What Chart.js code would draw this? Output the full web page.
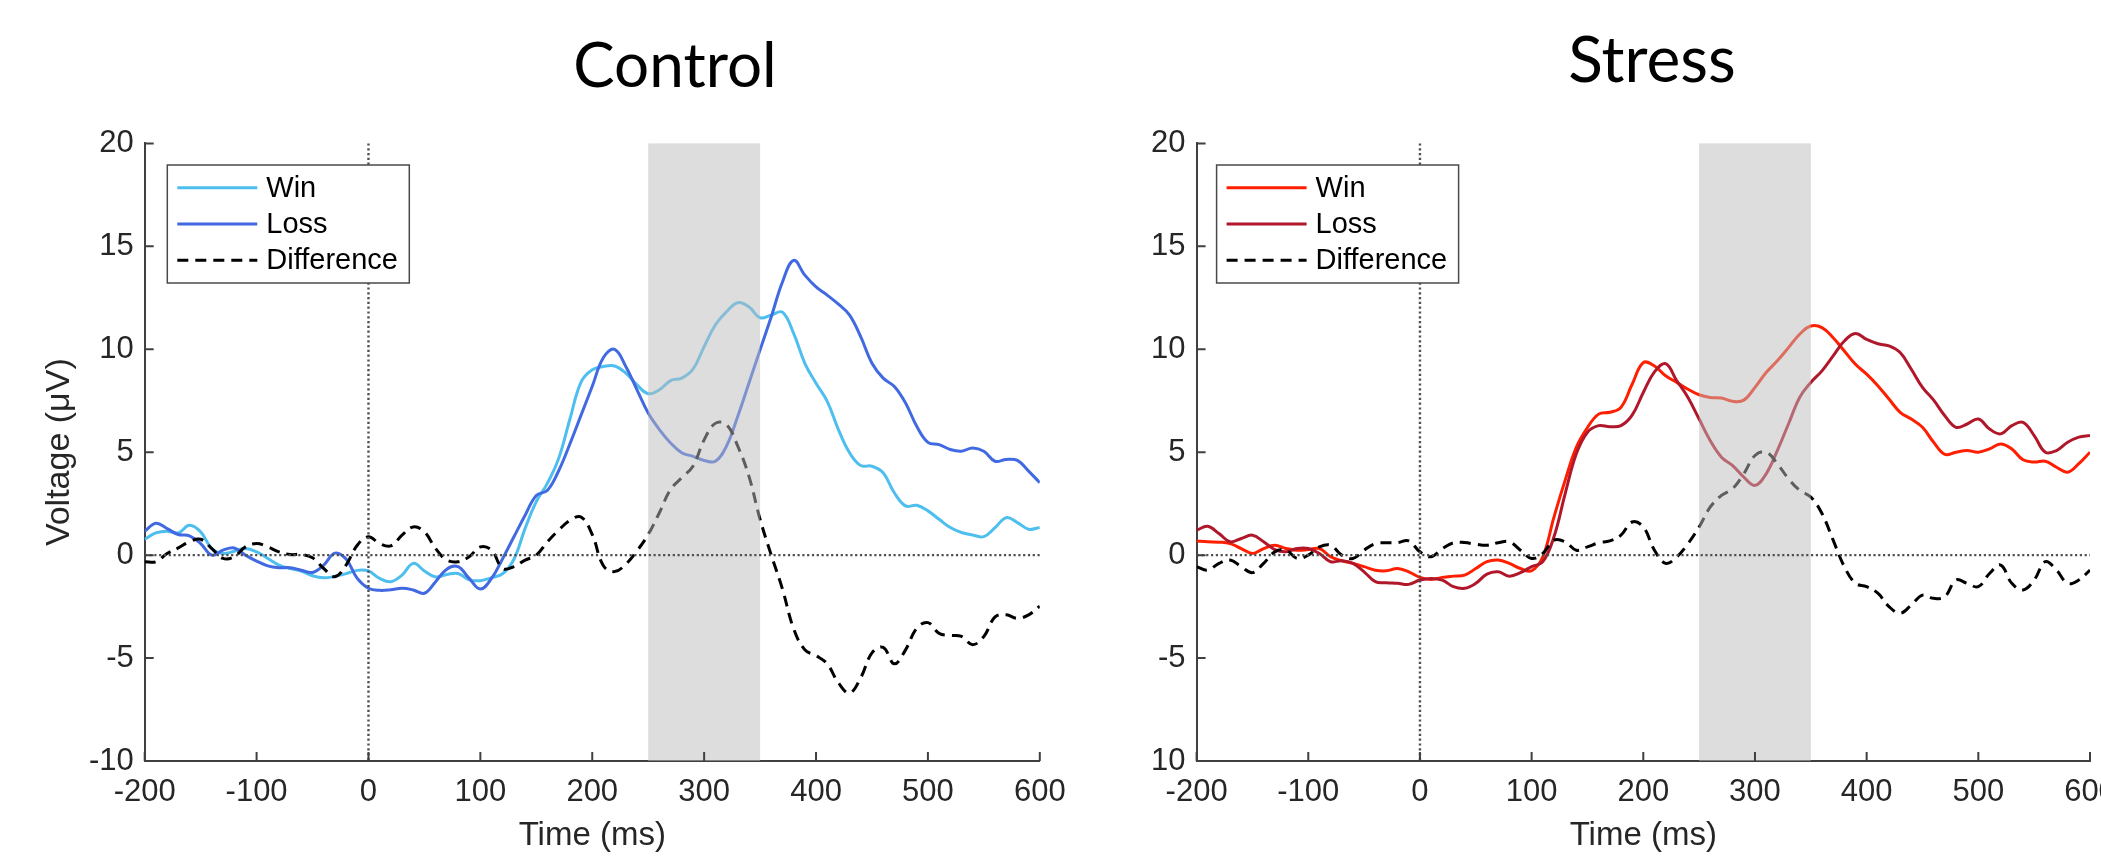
<!DOCTYPE html>
<html>
<head>
<meta charset="utf-8">
<title>ERP waveforms: Control vs Stress</title>
<script src="https://cdn.jsdelivr.net/npm/chart.js@4.4.1/dist/chart.umd.min.js"></script>
<style>
  html, body { margin: 0; padding: 0; background: #fff; overflow: hidden; }
  #wrap { position: relative; width: 2101px; height: 857px; }
  canvas { position: absolute; top: 0; }
  #control { left: 0; }
  #stress { left: 1152px; }
</style>
</head>
<body>
<div id="wrap">
  <canvas id="control" width="1100" height="857"></canvas>
  <canvas id="stress" width="949" height="857"></canvas>
</div>
<script>
// sample times (ms), 10 ms steps
const times = [
  -200, -190, -180, -170, -160, -150, -140, -130, -120, -110,
  -100, -90, -80, -70, -60, -50, -40, -30, -20, -10,
  0, 10, 20, 30, 40, 50, 60, 70, 80, 90,
  100, 110, 120, 130, 140, 150, 160, 170, 180, 190,
  200, 210, 220, 230, 240, 250, 260, 270, 280, 290,
  300, 310, 320, 330, 340, 350, 360, 370, 380, 390,
  400, 410, 420, 430, 440, 450, 460, 470, 480, 490,
  500, 510, 520, 530, 540, 550, 560, 570, 580, 590,
  600
];

const xTicks = [-200, -100, 0, 100, 200, 300, 400, 500, 600];
const yTicks = [-10, -5, 0, 5, 10, 15, 20];
const windowMs = [250, 350];

// Control group (µV)
const ctrlWin = [
  0.77, 1.08, 1.16, 1.08, 1.45, 1.13, 0.32, 0.08, 0.19, 0.32,
  0.16, -0.16, -0.48, -0.65, -0.77, -1.0, -1.1, -1.03, -0.9, -0.74,
  -0.77, -1.13, -1.29, -0.97, -0.4, -0.77, -1.06, -0.94, -0.89, -1.2,
  -1.24, -1.1, -0.9, -0.2, 1.3, 2.6, 3.5, 4.7, 6.6, 8.4,
  9.0, 9.16, 9.19, 8.84, 8.27, 7.84, 8.03, 8.48, 8.6, 9.03,
  10.13, 11.18, 11.82, 12.26, 12.06, 11.53, 11.66, 11.8, 10.77, 9.32,
  8.35, 7.47, 6.1, 4.97, 4.35, 4.32, 4.0, 3.03, 2.39, 2.42,
  2.15, 1.74, 1.34, 1.1, 0.98, 0.9, 1.34, 1.82, 1.58, 1.26,
  1.34
];
const ctrlLoss = [
  1.16, 1.55, 1.29, 1.0, 0.94, 0.56, 0.0, 0.24, 0.35, 0.0,
  -0.29, -0.52, -0.61, -0.61, -0.73, -0.84, -0.48, 0.1, -0.19, -1.13,
  -1.61, -1.71, -1.68, -1.61, -1.69, -1.85, -1.29, -0.68, -0.56, -1.13,
  -1.65, -1.13, -0.16, 0.89, 1.94, 2.9, 3.15, 4.1, 5.4, 6.8,
  8.2, 9.6, 10.0, 9.16, 8.03, 6.9, 6.1, 5.45, 4.97, 4.8,
  4.6, 4.56, 5.3, 6.74, 8.35, 9.97, 11.58, 13.27, 14.32, 13.6,
  13.03, 12.63, 12.19, 11.66, 10.6, 9.32, 8.6, 8.19, 7.39, 6.26,
  5.48, 5.37, 5.13, 5.05, 5.21, 5.05, 4.56, 4.65, 4.6, 4.08,
  3.52
];
const ctrlDiff = [
  -0.32, -0.32, 0.08, 0.35, 0.65, 0.77, 0.32, -0.16, -0.08, 0.4,
  0.56, 0.4, 0.16, 0.03, 0.03, -0.13, -0.65, -1.05, -0.48, 0.48,
  0.89, 0.56, 0.45, 0.97, 1.37, 1.13, 0.32, -0.24, -0.32, -0.08,
  0.4, 0.24, -0.65, -0.56, -0.24, 0.0, 0.65, 1.21, 1.69, 1.85,
  1.0, -0.52, -0.8, -0.44, 0.21, 1.0, 2.06, 3.19, 3.76, 4.32,
  5.6, 6.4, 6.34, 5.3, 3.84, 1.74, 0.0, -1.65, -3.58, -4.6,
  -4.88, -5.28, -6.2, -6.7, -5.95, -4.75, -4.48, -5.28, -4.6, -3.55,
  -3.28, -3.8, -3.9, -3.95, -4.35, -3.95, -3.0, -2.9, -3.07, -2.9,
  -2.48
];

// Stress group (µV)
const strWin = [
  0.69, 0.65, 0.63, 0.56, 0.32, 0.08, 0.32, 0.48, 0.32, 0.24,
  0.27, 0.32, -0.08, -0.27, -0.4, -0.56, -0.73, -0.76, -0.65, -0.81,
  -1.08, -1.18, -1.08, -1.02, -0.97, -0.65, -0.32, -0.24, -0.4, -0.65,
  -0.76, -0.08, 1.85, 3.63, 5.24, 6.2, 6.85, 6.94, 7.18, 8.3,
  9.35, 9.19, 8.71, 8.39, 8.06, 7.79, 7.66, 7.63, 7.47, 7.53,
  8.15, 8.87, 9.44, 10.08, 10.73, 11.13, 11.05, 10.56, 9.92, 9.27,
  8.79, 8.23, 7.58, 6.94, 6.61, 6.21, 5.48, 4.89, 5.0, 5.08,
  5.0, 5.16, 5.4, 5.16, 4.63, 4.52, 4.56, 4.27, 4.03, 4.44,
  5.0
];
const strLoss = [
  1.21, 1.4, 1.05, 0.65, 0.81, 0.97, 0.65, 0.27, 0.16, 0.32,
  0.32, 0.08, -0.32, -0.27, -0.4, -0.81, -1.29, -1.34, -1.37, -1.42,
  -1.21, -1.13, -1.21, -1.53, -1.61, -1.37, -0.92, -0.81, -1.02, -0.85,
  -0.56, -0.32, 0.89, 2.98, 4.92, 5.97, 6.29, 6.24, 6.29, 6.8,
  7.9, 8.9, 9.3, 8.47, 7.66, 6.61, 5.56, 4.76, 4.35, 3.79,
  3.39, 3.95, 5.08, 6.37, 7.66, 8.39, 8.95, 9.68, 10.4, 10.76,
  10.48, 10.27, 10.16, 9.84, 9.03, 8.15, 7.53, 6.77, 6.21, 6.37,
  6.61, 6.13, 5.89, 6.29, 6.45, 5.81, 5.0, 5.08, 5.48, 5.73,
  5.81
];
const strDiff = [
  -0.56, -0.73, -0.4, -0.24, -0.56, -0.85, -0.4, 0.16, 0.24, -0.16,
  0.0, 0.4, 0.48, 0.0, -0.16, 0.24, 0.56, 0.6, 0.61, 0.69,
  0.16, -0.08, 0.32, 0.6, 0.61, 0.53, 0.48, 0.6, 0.65, 0.24,
  -0.16, 0.08, 0.73, 0.65, 0.24, 0.4, 0.6, 0.69, 0.97, 1.61,
  1.37, 0.24, -0.4, -0.08, 0.56, 1.37, 2.34, 2.9, 3.23, 3.95,
  4.84, 5.0, 4.44, 3.71, 3.15, 2.82, 2.02, 0.73, -0.56, -1.37,
  -1.53, -1.85, -2.5, -2.82, -2.42, -1.94, -2.1, -2.02, -1.21, -1.37,
  -1.53, -0.89, -0.48, -1.37, -1.69, -1.21, -0.32, -0.73, -1.37, -1.21,
  -0.73
];

const FONT = '"Liberation Sans", Arial, Helvetica, sans-serif';
const AXIS = '#404040';
const TEXT = '#262626';

Chart.defaults.font.family = FONT;

// shaded window, zero lines, inward ticks, boxed legend and panel title
const erpDecor = {
  id: 'erpDecor',
  afterDatasetsDraw(chart, args, opts) {
    const { ctx, chartArea: a, scales: { x, y } } = chart;
    ctx.save();
    const x0 = x.getPixelForValue(windowMs[0]);
    const x1 = x.getPixelForValue(windowMs[1]);
    ctx.fillStyle = 'rgba(188,188,188,0.5)';
    ctx.fillRect(x0, a.top, x1 - x0, a.bottom - a.top);

    ctx.strokeStyle = '#505050';
    ctx.lineWidth = 2.4;
    ctx.setLineDash([2.2, 2.6]);
    const yz = y.getPixelForValue(0);
    const xz = x.getPixelForValue(0);
    ctx.beginPath();
    ctx.moveTo(a.left, yz);
    ctx.lineTo(a.right, yz);
    ctx.moveTo(xz, a.top);
    ctx.lineTo(xz, a.bottom);
    ctx.stroke();
    ctx.restore();
  },
  afterDraw(chart, args, opts) {
    const { ctx, chartArea: a, scales: { x, y } } = chart;
    ctx.save();

    // tick marks pointing into the axes
    ctx.strokeStyle = AXIS;
    ctx.lineWidth = 2;
    ctx.beginPath();
    x.ticks.forEach(t => {
      const px = x.getPixelForValue(t.value);
      ctx.moveTo(px, a.bottom);
      ctx.lineTo(px, a.bottom - 9);
    });
    y.ticks.forEach(t => {
      const py = y.getPixelForValue(t.value);
      ctx.moveTo(a.left, py);
      ctx.lineTo(a.left + 9, py);
    });
    ctx.stroke();

    // legend
    const bx = a.left + opts.legendDx;
    const by = a.top + opts.legendDy;
    const bw = 242, bh = 118;
    ctx.fillStyle = '#fff';
    ctx.fillRect(bx, by, bw, bh);
    ctx.strokeStyle = '#4a4a4a';
    ctx.lineWidth = 1.5;
    ctx.strokeRect(bx, by, bw, bh);
    ctx.font = '29px ' + FONT;
    ctx.textBaseline = 'middle';
    ctx.textAlign = 'left';
    chart.data.datasets.forEach((ds, i) => {
      const ly = by + 22.7 + i * 36.3;
      ctx.strokeStyle = ds.borderColor;
      ctx.lineWidth = ds.borderWidth;
      ctx.setLineDash(ds.borderDash || []);
      ctx.beginPath();
      ctx.moveTo(bx + 10, ly);
      ctx.lineTo(bx + 90, ly);
      ctx.stroke();
      ctx.fillStyle = '#000';
      ctx.fillText(ds.label, bx + 99, ly + 1);
    });
    ctx.setLineDash([]);

    // panel title
    ctx.font = opts.titleSize + 'px Lato, "Open Sans", sans-serif';
    ctx.textAlign = 'center';
    ctx.textBaseline = 'alphabetic';
    ctx.fillStyle = '#000';
    ctx.fillText(opts.title, opts.titleX, opts.titleY);
    ctx.restore();
  }
};

function erpChart(id, win, loss, diff, colors, panel) {
  const pts = vals => times.map((t, i) => ({ x: t, y: vals[i] }));
  return new Chart(document.getElementById(id), {
    type: 'line',
    data: {
      datasets: [
        { label: 'Win', data: pts(win), borderColor: colors[0], borderWidth: 3, order: 2 },
        { label: 'Loss', data: pts(loss), borderColor: colors[1], borderWidth: 3, order: 1 },
        { label: 'Difference', data: pts(diff), borderColor: '#000', borderWidth: 3, borderDash: [11, 7], order: 0 }
      ]
    },
    options: {
      responsive: false,
      animation: false,
      events: [],
      layout: { padding: { top: 143.4, right: panel.padRight, bottom: 0, left: 0 } },
      elements: { point: { radius: 0 }, line: { tension: 0.4, fill: false } },
      plugins: {
        legend: { display: false },
        tooltip: { enabled: false },
        erpDecor: {
          title: panel.title, titleX: panel.titleX, titleY: panel.titleY, titleSize: panel.titleSize,
          legendDx: panel.legendDx, legendDy: 21.6
        }
      },
      scales: {
        x: {
          type: 'linear',
          min: -200,
          max: 600,
          afterBuildTicks: s => { s.ticks = xTicks.map(v => ({ value: v })); },
          afterFit: s => { s.height = 96; s.paddingLeft = 0; s.paddingRight = 0; },
          grid: { drawOnChartArea: false, drawTicks: false },
          border: { color: AXIS, width: 2 },
          ticks: { padding: 13, color: TEXT, font: { size: 31 }, maxRotation: 0, autoSkip: false },
          title: { display: true, text: 'Time (ms)', color: TEXT, font: { size: 33 }, padding: { top: 0, bottom: 1 } }
        },
        y: {
          min: -10,
          max: 20,
          afterBuildTicks: s => { s.ticks = yTicks.map(v => ({ value: v })); },
          afterFit: s => { s.width = panel.yWidth; s.paddingTop = 0; s.paddingBottom = 0; },
          grid: { drawOnChartArea: false, drawTicks: false },
          border: { color: AXIS, width: 2 },
          ticks: { padding: 11, color: TEXT, font: { size: 31 }, autoSkip: false },
          title: {
            display: panel.yTitle, text: 'Voltage (\u03bcV)', color: TEXT,
            font: { size: 34 }, padding: { top: 39.6, bottom: 0 }
          }
        }
      }
    },
    plugins: [erpDecor]
  });
}

erpChart('control', ctrlWin, ctrlLoss, ctrlDiff, ['#4DBEEE', '#4169E1'], {
  title: 'Control', titleX: 675, titleY: 87, titleSize: 62,
  padRight: 60.2, yWidth: 144.7, yTitle: true, legendDx: 22.6
});

erpChart('stress', strWin, strLoss, strDiff, ['#FF1E00', '#B0172B'], {
  title: 'Stress', titleX: 500, titleY: 82, titleSize: 64,
  padRight: 11, yWidth: 44.6, yTitle: false, legendDx: 20
});
</script>
</body>
</html>
